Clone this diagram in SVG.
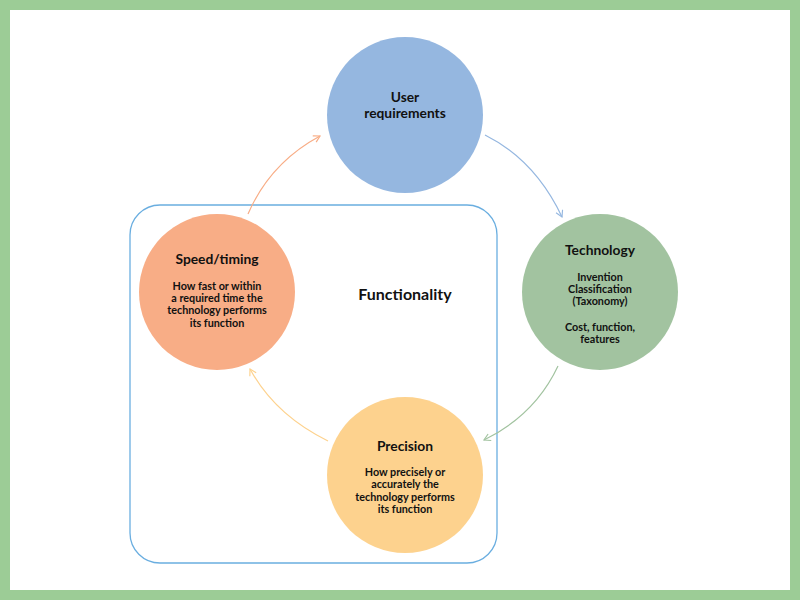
<svg xmlns="http://www.w3.org/2000/svg" width="800" height="600" viewBox="0 0 800 600">
<style>
.t{font-family:Lato,"Liberation Sans",sans-serif;font-weight:bold;fill:#111111;text-anchor:middle}
.h{font-size:13.8px}
.b{font-size:10.8px}
.c{fill:none;stroke-width:1.2}
</style>
<defs>
<marker id="ab" viewBox="0 0 10 10" refX="8" refY="5" markerWidth="9" markerHeight="9" orient="auto" markerUnits="userSpaceOnUse"><path d="M1,1 L8,5 L1,9" fill="none" stroke="#95b7e0" stroke-width="1.3"/></marker>
<marker id="ag" viewBox="0 0 10 10" refX="8" refY="5" markerWidth="9" markerHeight="9" orient="auto" markerUnits="userSpaceOnUse"><path d="M1,1 L8,5 L1,9" fill="none" stroke="#a2c3a0" stroke-width="1.3"/></marker>
<marker id="ay" viewBox="0 0 10 10" refX="8" refY="5" markerWidth="9" markerHeight="9" orient="auto" markerUnits="userSpaceOnUse"><path d="M1,1 L8,5 L1,9" fill="none" stroke="#fdd28e" stroke-width="1.3"/></marker>
<marker id="ao" viewBox="0 0 10 10" refX="8" refY="5" markerWidth="9" markerHeight="9" orient="auto" markerUnits="userSpaceOnUse"><path d="M1,1 L8,5 L1,9" fill="none" stroke="#f8ad86" stroke-width="1.3"/></marker>
</defs>
<rect x="0" y="0" width="800" height="600" fill="#9ccc96"/>
<rect x="10" y="10" width="780" height="580" fill="#ffffff"/>
<g id="functionality">
<rect x="130" y="205" width="367" height="358" rx="30" ry="30" fill="none" stroke="#6aaee0" stroke-width="1.3"/>
<text class="t" x="405" y="300" font-size="16">Functionality</text>
</g>
<g id="connectors">
<path class="c" d="M485,135 Q535,160 562,217" stroke="#95b7e0" marker-end="url(#ab)"/>
<path class="c" d="M558,366 Q535,415 484,440" stroke="#a2c3a0" marker-end="url(#ag)"/>
<path class="c" d="M328,441 Q275,415 250,369" stroke="#fdd28e" marker-end="url(#ay)"/>
<path class="c" d="M248,214 Q270,163 320,136" stroke="#f8ad86" marker-end="url(#ao)"/>
</g>
<g id="user">
<circle cx="405" cy="115" r="78" fill="#95b7e0"/>
<text class="t h" x="405" y="102">User</text>
<text class="t h" x="405" y="118">requirements</text>
</g>
<g id="technology">
<circle cx="600" cy="292" r="78" fill="#a2c3a0"/>
<text class="t h" x="600" y="255">Technology</text>
<text class="t b" x="600" y="281">Invention</text>
<text class="t b" x="600" y="293">Classification</text>
<text class="t b" x="600" y="305">(Taxonomy)</text>
<text class="t b" x="600" y="331">Cost, function,</text>
<text class="t b" x="600" y="343">features</text>
</g>
<g id="precision">
<circle cx="405" cy="475" r="78" fill="#fdd28e"/>
<text class="t h" x="405" y="451">Precision</text>
<text class="t b" x="405" y="476">How precisely or</text>
<text class="t b" x="405" y="488">accurately the</text>
<text class="t b" x="405" y="501">technology performs</text>
<text class="t b" x="405" y="513">its function</text>
</g>
<g id="speed">
<circle cx="217" cy="292" r="78" fill="#f8ad86"/>
<text class="t h" x="217" y="264">Speed/timing</text>
<text class="t b" x="217" y="290">How fast or within</text>
<text class="t b" x="217" y="302">a required time the</text>
<text class="t b" x="217" y="314">technology performs</text>
<text class="t b" x="217" y="327">its function</text>
</g>
</svg>
